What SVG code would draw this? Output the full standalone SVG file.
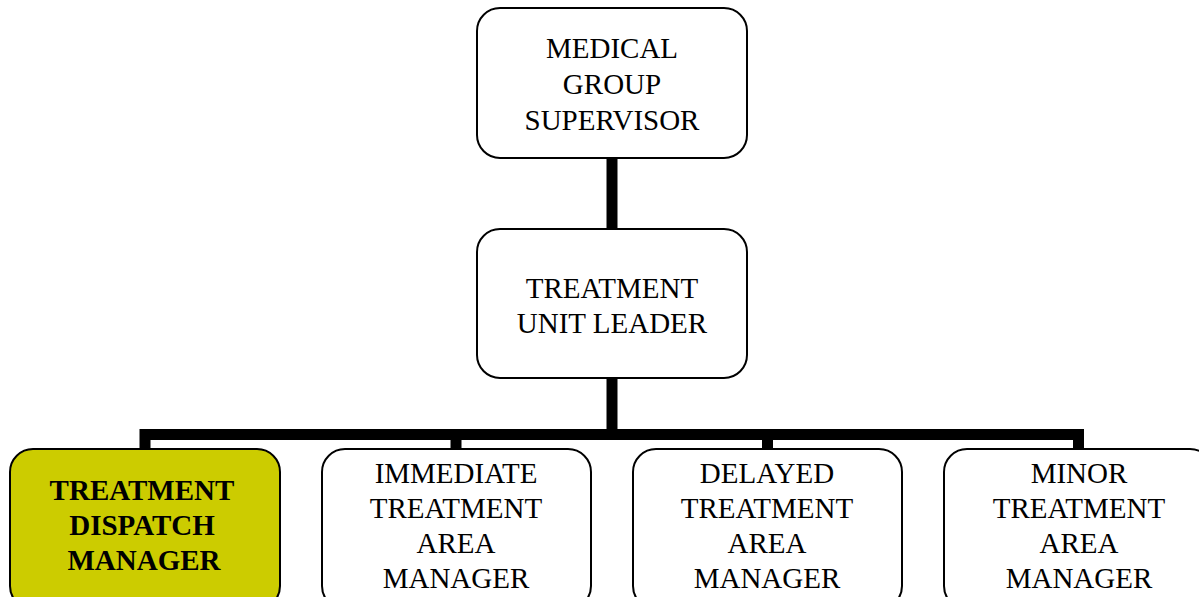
<svg xmlns="http://www.w3.org/2000/svg" width="1199" height="597" viewBox="0 0 1199 597">
<style>
.box{fill:#ffffff;stroke:#000000;stroke-width:2}
.hl{fill:#cccc00;stroke:#000000;stroke-width:2}
.t{font-family:"Liberation Serif","Times New Roman",serif;font-size:29px;fill:#000000;text-anchor:middle}
.b{font-weight:bold}
.c{fill:none;stroke:#000000;stroke-width:11;stroke-linecap:butt;stroke-linejoin:miter}
</style>
<rect width="1199" height="597" fill="#ffffff"/>
<g id="connectors">
<path class="c" d="M612 156 V230"/>
<path class="c" d="M612 376 V434.5"/>
<path class="c" d="M145 450 V434.5 H1078.5 V450"/>
<path class="c" d="M456 434.5 V450"/>
<path class="c" d="M767.5 434.5 V450"/>
</g>
<g id="medical-group-supervisor">
<rect class="box" x="477" y="8" width="270" height="150" rx="23"/>
<text class="t" x="612" y="58">MEDICAL</text>
<text class="t" x="612" y="94">GROUP</text>
<text class="t" x="612" y="130">SUPERVISOR</text>
</g>
<g id="treatment-unit-leader">
<rect class="box" x="477" y="229" width="270" height="149" rx="23"/>
<text class="t" x="612" y="298">TREATMENT</text>
<text class="t" x="612" y="333">UNIT LEADER</text>
</g>
<g id="treatment-dispatch-manager">
<rect class="hl" x="10" y="449" width="270" height="160" rx="23"/>
<text class="t b" x="142" y="500">TREATMENT</text>
<text class="t b" x="142" y="535">DISPATCH</text>
<text class="t b" x="144" y="570">MANAGER</text>
</g>
<g id="immediate-treatment-area-manager">
<rect class="box" x="322" y="449" width="269" height="160" rx="23"/>
<text class="t" x="456" y="483">IMMEDIATE</text>
<text class="t" x="456" y="518">TREATMENT</text>
<text class="t" x="456" y="553">AREA</text>
<text class="t" x="456" y="588">MANAGER</text>
</g>
<g id="delayed-treatment-area-manager">
<rect class="box" x="633" y="449" width="269" height="160" rx="23"/>
<text class="t" x="767" y="483">DELAYED</text>
<text class="t" x="767" y="518">TREATMENT</text>
<text class="t" x="767" y="553">AREA</text>
<text class="t" x="767" y="588">MANAGER</text>
</g>
<g id="minor-treatment-area-manager">
<rect class="box" x="944" y="449" width="269" height="160" rx="23"/>
<text class="t" x="1079" y="483">MINOR</text>
<text class="t" x="1079" y="518">TREATMENT</text>
<text class="t" x="1079" y="553">AREA</text>
<text class="t" x="1079" y="588">MANAGER</text>
</g>
</svg>
